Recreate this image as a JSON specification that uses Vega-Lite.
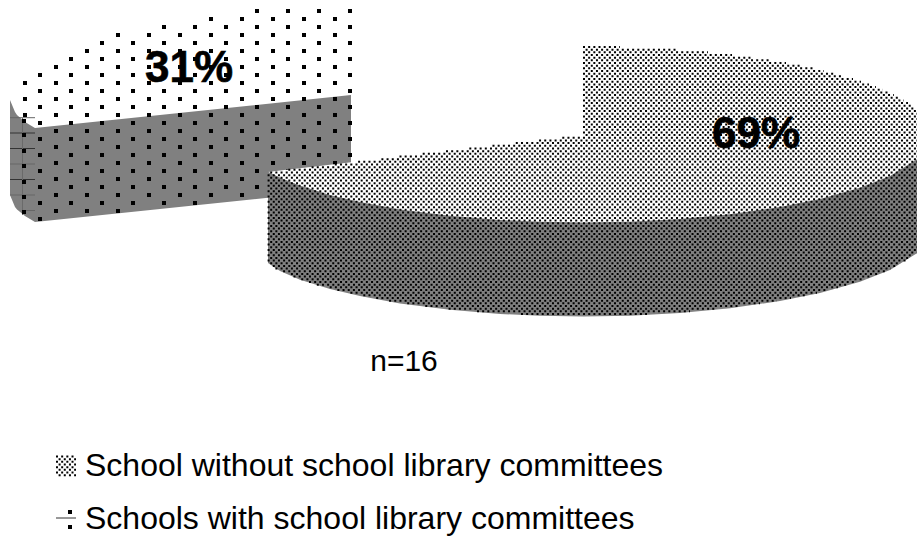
{
  "$schema": "https://vega.github.io/schema/vega-lite/v6.json",
  "width": 917,
  "height": 538,
  "padding": 0,
  "autosize": {"type": "none"},
  "background": "white",
  "view": {"stroke": null},
  "datasets": {
    "minorSide": [
      {"x": 10, "y": 100, "y2": 195},
      {"x": 15, "y": 112, "y2": 207},
      {"x": 17, "y": 115, "y2": 209.5},
      {"x": 25, "y": 122, "y2": 216},
      {"x": 35, "y": 128, "y2": 222},
      {"x": 351, "y": 95, "y2": 189}
    ],
    "minorFacetDark": [
      {"x": 10, "x2": 35, "y": 133},
      {"x": 10, "x2": 35, "y": 148.5},
      {"x": 10, "x2": 35, "y": 179.5},
      {"x": 56, "x2": 76, "y": 518}
    ],
    "minorFacetLight": [
      {"x": 10, "x2": 35, "y": 117.7},
      {"x": 10, "x2": 35, "y": 164},
      {"x": 10, "x2": 35, "y": 195},
      {"x": 23, "x2": 35, "y": 210.5}
    ],
    "minorFacetSeam": [
      {"x": 22.5, "y": 118, "y2": 215}
    ],
    "coarseDots": [
      {"y": 11, "x": 255, "x2": 352},
      {"y": 19, "x": 209, "x2": 352},
      {"y": 27, "x": 162, "x2": 352},
      {"y": 35, "x": 116, "x2": 352},
      {"y": 43, "x": 100, "x2": 352},
      {"y": 51, "x": 85, "x2": 352},
      {"y": 59, "x": 69, "x2": 352},
      {"y": 67, "x": 54, "x2": 352},
      {"y": 75, "x": 38, "x2": 352},
      {"y": 83, "x": 23, "x2": 352},
      {"y": 91, "x": 38, "x2": 352},
      {"y": 99, "x": 23, "x2": 352},
      {"y": 107, "x": 38, "x2": 352},
      {"y": 115, "x": 23, "x2": 352},
      {"y": 123, "x": 38, "x2": 352},
      {"y": 131, "x": 54, "x2": 352},
      {"y": 139, "x": 38, "x2": 352},
      {"y": 147, "x": 54, "x2": 352},
      {"y": 155, "x": 38, "x2": 352},
      {"y": 163, "x": 54, "x2": 352},
      {"y": 171, "x": 38, "x2": 352},
      {"y": 179, "x": 54, "x2": 352},
      {"y": 187, "x": 38, "x2": 352},
      {"y": 195, "x": 54, "x2": 275},
      {"y": 203, "x": 38, "x2": 199},
      {"y": 211, "x": 54, "x2": 121},
      {"y": 219, "x": 38, "x2": 44},
      {"y": 121, "x": 22, "x2": 26},
      {"y": 135, "x": 22, "x2": 26},
      {"y": 151, "x": 22, "x2": 26},
      {"y": 166, "x": 22, "x2": 26},
      {"y": 182, "x": 22, "x2": 26},
      {"y": 197, "x": 22, "x2": 26},
      {"y": 212, "x": 22, "x2": 26},
      {"y": 512, "x": 68, "x2": 72},
      {"y": 527, "x": 68, "x2": 72}
    ],
    "majorTop": [
      {"x": 268, "y": 172, "y2": 172},
      {"x": 280, "y": 170.6, "y2": 177.8},
      {"x": 300, "y": 168.2, "y2": 185.7},
      {"x": 330, "y": 164.7, "y2": 195},
      {"x": 360, "y": 161.2, "y2": 202},
      {"x": 400, "y": 156.5, "y2": 209.4},
      {"x": 450, "y": 150.6, "y2": 215.8},
      {"x": 500, "y": 144.7, "y2": 220},
      {"x": 540, "y": 140, "y2": 221.8},
      {"x": 583, "y": 135, "y2": 222.5},
      {"x": 583.01, "y": 46.5, "y2": 222.5},
      {"x": 630, "y": 47.3, "y2": 221.7},
      {"x": 680, "y": 50, "y2": 219},
      {"x": 730, "y": 54.8, "y2": 214.3},
      {"x": 780, "y": 62, "y2": 207},
      {"x": 820, "y": 70.1, "y2": 198.9},
      {"x": 860, "y": 81.3, "y2": 187.7},
      {"x": 890, "y": 93.1, "y2": 175.9},
      {"x": 917, "y": 109.8, "y2": 159.2}
    ],
    "majorSide": [
      {"x": 268, "y": 171.9, "y2": 263},
      {"x": 280, "y": 177.8, "y2": 271},
      {"x": 300, "y": 185.7, "y2": 279.7},
      {"x": 330, "y": 195, "y2": 289},
      {"x": 360, "y": 202, "y2": 296},
      {"x": 400, "y": 209.4, "y2": 303.4},
      {"x": 450, "y": 215.8, "y2": 309.8},
      {"x": 500, "y": 220, "y2": 314},
      {"x": 540, "y": 221.8, "y2": 315.8},
      {"x": 583, "y": 222.5, "y2": 316.5},
      {"x": 630, "y": 221.7, "y2": 315.7},
      {"x": 680, "y": 219, "y2": 313},
      {"x": 730, "y": 214.3, "y2": 308.3},
      {"x": 780, "y": 207, "y2": 301},
      {"x": 820, "y": 198.9, "y2": 292.9},
      {"x": 860, "y": 187.7, "y2": 281.7},
      {"x": 890, "y": 175.9, "y2": 269.9},
      {"x": 917, "y": 159.2, "y2": 253.2}
    ],
    "fineDots": [
      {"y": 47, "x": 583, "x2": 620},
      {"y": 49.67, "x": 585.6, "x2": 676},
      {"y": 52.34, "x": 583, "x2": 708},
      {"y": 55.01, "x": 585.6, "x2": 732},
      {"y": 57.68, "x": 583, "x2": 753},
      {"y": 60.35, "x": 585.6, "x2": 770},
      {"y": 63.02, "x": 583, "x2": 786},
      {"y": 65.69, "x": 585.6, "x2": 800},
      {"y": 68.36, "x": 583, "x2": 813},
      {"y": 71.03, "x": 585.6, "x2": 824},
      {"y": 73.7, "x": 583, "x2": 835},
      {"y": 76.37, "x": 585.6, "x2": 844},
      {"y": 79.04, "x": 583, "x2": 853},
      {"y": 81.71, "x": 585.6, "x2": 861},
      {"y": 84.38, "x": 583, "x2": 869},
      {"y": 87.05, "x": 585.6, "x2": 876},
      {"y": 89.72, "x": 583, "x2": 883},
      {"y": 92.39, "x": 585.6, "x2": 889},
      {"y": 95.06, "x": 583, "x2": 894},
      {"y": 97.73, "x": 585.6, "x2": 899},
      {"y": 100.4, "x": 583, "x2": 904},
      {"y": 103.07, "x": 585.6, "x2": 908},
      {"y": 105.74, "x": 583, "x2": 912},
      {"y": 108.41, "x": 585.6, "x2": 915},
      {"y": 111.08, "x": 583, "x2": 917},
      {"y": 113.75, "x": 585.6, "x2": 917},
      {"y": 116.42, "x": 583, "x2": 917},
      {"y": 119.09, "x": 585.6, "x2": 917},
      {"y": 121.76, "x": 583, "x2": 917},
      {"y": 124.43, "x": 585.6, "x2": 917},
      {"y": 127.1, "x": 583, "x2": 917},
      {"y": 129.77, "x": 585.6, "x2": 917},
      {"y": 132.44, "x": 583, "x2": 917},
      {"y": 135.11, "x": 585.6, "x2": 917},
      {"y": 137.78, "x": 562.3, "x2": 917},
      {"y": 140.45, "x": 539.07, "x2": 917},
      {"y": 143.12, "x": 515.8, "x2": 917},
      {"y": 145.79, "x": 492.5, "x2": 917},
      {"y": 148.46, "x": 469.3, "x2": 917},
      {"y": 151.13, "x": 446, "x2": 917},
      {"y": 153.8, "x": 422.7, "x2": 917},
      {"y": 156.47, "x": 399.5, "x2": 917},
      {"y": 159.14, "x": 381.4, "x2": 917},
      {"y": 161.81, "x": 358.1, "x2": 917},
      {"y": 164.48, "x": 334.8, "x2": 917},
      {"y": 167.15, "x": 311.6, "x2": 917},
      {"y": 169.82, "x": 288.3, "x2": 917},
      {"y": 172.49, "x": 270.2, "x2": 917},
      {"y": 175.16, "x": 267.6, "x2": 917},
      {"y": 177.83, "x": 270.2, "x2": 917},
      {"y": 180.5, "x": 267.6, "x2": 917},
      {"y": 183.17, "x": 270.2, "x2": 917},
      {"y": 185.84, "x": 267.6, "x2": 917},
      {"y": 188.51, "x": 270.2, "x2": 917},
      {"y": 191.18, "x": 267.6, "x2": 917},
      {"y": 193.85, "x": 270.2, "x2": 917},
      {"y": 196.52, "x": 267.6, "x2": 917},
      {"y": 199.19, "x": 270.2, "x2": 917},
      {"y": 201.86, "x": 267.6, "x2": 917},
      {"y": 204.53, "x": 270.2, "x2": 917},
      {"y": 207.2, "x": 267.6, "x2": 917},
      {"y": 209.87, "x": 270.2, "x2": 917},
      {"y": 212.54, "x": 267.6, "x2": 917},
      {"y": 215.21, "x": 270.2, "x2": 917},
      {"y": 217.88, "x": 267.6, "x2": 917},
      {"y": 220.55, "x": 270.2, "x2": 917},
      {"y": 223.22, "x": 267.6, "x2": 917},
      {"y": 225.89, "x": 270.2, "x2": 917},
      {"y": 228.56, "x": 267.6, "x2": 917},
      {"y": 231.23, "x": 270.2, "x2": 917},
      {"y": 233.9, "x": 267.6, "x2": 917},
      {"y": 236.57, "x": 270.2, "x2": 917},
      {"y": 239.24, "x": 267.6, "x2": 917},
      {"y": 241.91, "x": 270.2, "x2": 917},
      {"y": 244.58, "x": 267.6, "x2": 917},
      {"y": 247.25, "x": 270.2, "x2": 917},
      {"y": 249.92, "x": 267.6, "x2": 917},
      {"y": 252.59, "x": 270.2, "x2": 916.6},
      {"y": 255.26, "x": 267.6, "x2": 913},
      {"y": 257.93, "x": 270.2, "x2": 910},
      {"y": 260.6, "x": 267.6, "x2": 906},
      {"y": 263.27, "x": 270.2, "x2": 901},
      {"y": 265.94, "x": 272.8, "x2": 896},
      {"y": 268.61, "x": 275.4, "x2": 891},
      {"y": 271.28, "x": 283.1, "x2": 885},
      {"y": 273.95, "x": 290.9, "x2": 878},
      {"y": 276.62, "x": 293.5, "x2": 872},
      {"y": 279.29, "x": 301.25, "x2": 864},
      {"y": 281.96, "x": 309, "x2": 856},
      {"y": 284.63, "x": 316.8, "x2": 848},
      {"y": 287.3, "x": 329.7, "x2": 838},
      {"y": 289.97, "x": 337.4, "x2": 828},
      {"y": 292.64, "x": 350.4, "x2": 817},
      {"y": 295.31, "x": 363.3, "x2": 805},
      {"y": 297.98, "x": 376.2, "x2": 791},
      {"y": 300.65, "x": 389.1, "x2": 777},
      {"y": 303.32, "x": 407.2, "x2": 760},
      {"y": 305.99, "x": 425.3, "x2": 740},
      {"y": 308.66, "x": 448.6, "x2": 717},
      {"y": 311.33, "x": 477, "x2": 690},
      {"y": 314, "x": 521, "x2": 647},
      {"y": 456.5, "x": 56, "x2": 76},
      {"y": 459.17, "x": 58.6, "x2": 76},
      {"y": 461.84, "x": 56, "x2": 76},
      {"y": 464.51, "x": 58.6, "x2": 76},
      {"y": 467.18, "x": 56, "x2": 76},
      {"y": 469.85, "x": 58.6, "x2": 76},
      {"y": 472.52, "x": 56, "x2": 76},
      {"y": 475.19, "x": 58.6, "x2": 76}
    ],
    "shareLabels": [
      {"label": "31%", "x": 189, "y": 81.5},
      {"label": "69%", "x": 756, "y": 148}
    ],
    "note": [
      {"label": "n=16", "x": 404, "y": 371}
    ],
    "legendLabels": [
      {"label": "School without school library committees", "x": 85, "y": 476},
      {"label": "Schools with school library committees", "x": 85, "y": 529}
    ]
  },
  "encoding": {
    "x": {"field": "x", "type": "quantitative", "scale": {"domain": [0, 917]}, "axis": null},
    "y": {"field": "y", "type": "quantitative", "scale": {"domain": [538, 0]}, "axis": null}
  },
  "layer": [
    {
      "data": {"name": "minorSide"},
      "mark": {"type": "area", "color": "#808080"},
      "encoding": {"y2": {"field": "y2"}}
    },
    {
      "data": {"name": "minorFacetLight"},
      "mark": {"type": "rule", "color": "#666666", "strokeWidth": 1},
      "encoding": {"x2": {"field": "x2"}}
    },
    {
      "data": {"name": "minorFacetDark"},
      "mark": {"type": "rule", "color": "#333333", "strokeWidth": 1},
      "encoding": {"x2": {"field": "x2"}}
    },
    {
      "data": {"name": "minorFacetSeam"},
      "mark": {"type": "rule", "color": "#6a6a6a", "strokeWidth": 1},
      "encoding": {"y2": {"field": "y2"}}
    },
    {
      "data": {"name": "coarseDots"},
      "mark": {"type": "rule", "color": "#000000", "strokeWidth": 4, "strokeDash": [4, 27]},
      "encoding": {"x2": {"field": "x2"}}
    },
    {
      "data": {"name": "majorTop"},
      "mark": {"type": "area", "color": "#ffffff"},
      "encoding": {"y2": {"field": "y2"}}
    },
    {
      "data": {"name": "majorSide"},
      "mark": {"type": "area", "color": "#808080"},
      "encoding": {"y2": {"field": "y2"}}
    },
    {
      "data": {"name": "fineDots"},
      "mark": {"type": "rule", "color": "#000000", "strokeWidth": 2, "strokeDash": [2, 3.17]},
      "encoding": {"x2": {"field": "x2"}}
    },
    {
      "data": {"name": "shareLabels"},
      "mark": {"type": "text", "font": "Liberation Sans", "fontWeight": "bold", "fontSize": 44, "align": "center", "baseline": "alphabetic", "color": "#000000", "stroke": "#000000", "strokeWidth": 0.6},
      "encoding": {"text": {"field": "label"}}
    },
    {
      "data": {"name": "note"},
      "mark": {"type": "text", "font": "Liberation Sans", "fontSize": 30, "align": "center", "baseline": "alphabetic", "color": "#000000"},
      "encoding": {"text": {"field": "label"}}
    },
    {
      "data": {"name": "legendLabels"},
      "mark": {"type": "text", "font": "Liberation Sans", "fontSize": 32, "align": "left", "baseline": "alphabetic", "color": "#000000"},
      "encoding": {"text": {"field": "label"}}
    }
  ]
}
